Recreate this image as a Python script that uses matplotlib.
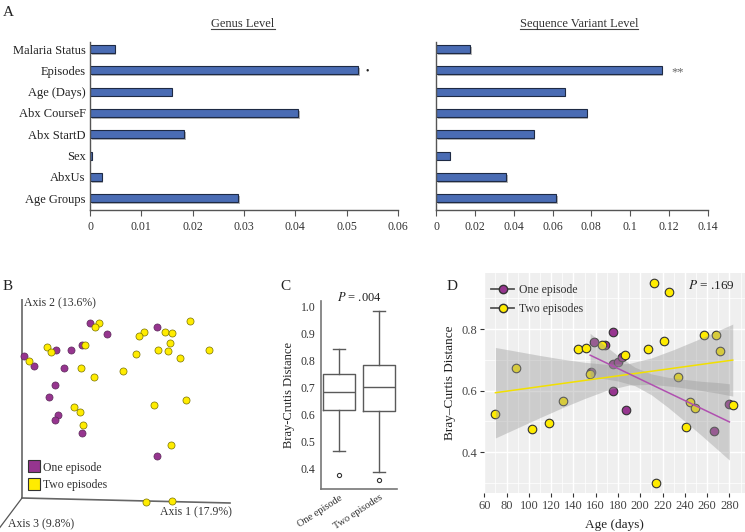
import matplotlib
matplotlib.use('Agg')
import matplotlib.pyplot as plt
import matplotlib.patheffects as pe
from matplotlib.lines import Line2D
from matplotlib.ticker import MultipleLocator

plt.rcParams['font.family'] = ['Liberation Serif', 'DejaVu Serif']
plt.rcParams['mathtext.fontset'] = 'stix'

# ---- panel A: PERMANOVA R2 ----
variables = ['Malaria Status', 'Episodes', 'Age (Days)', 'Abx CourseF',
             'Abx StartD', 'Sex', 'AbxUs', 'Age Groups']
genus_r2 = [0.0048, 0.0523, 0.0159, 0.0405, 0.0184, 0.0003, 0.0023, 0.0289]
sv_r2 = [0.0176, 0.1162, 0.0662, 0.0775, 0.0502, 0.0070, 0.0360, 0.0620]
genus_ticks = [0, 0.01, 0.02, 0.03, 0.04, 0.05, 0.06]
genus_ticklabels = ['0', '0.01', '0.02', '0.03', '0.04', '0.05', '0.06']
sv_ticks = [0, 0.02, 0.04, 0.06, 0.08, 0.10, 0.12, 0.14]
sv_ticklabels = ['0', '0.02', '0.04', '0.06', '0.08', '0.1', '0.12', '0.14']

# ---- panel B: PCoA (projected coordinates) ----
one_ax1 = [67.7, 84.7, 134.7, 33.7, 49, 60.3, 2, 12.3, 42.3, 33, 27, 36.3, 33.3, 59.7, 135]
one_ax2 = [175.3, 163.7, 171.3, 148, 147.7, 153, 141.7, 132.3, 130.3, 113, 101.3, 83.3, 78.3, 65.3, 41.7]
two_ax1 = [77.3, 72.7, 168, 122, 117, 142.7, 150, 148, 25, 28.7, 63, 7.3, 135.7, 146.3,
           114.3, 158.3, 186.7, 59.3, 72.3, 101.3, 132, 164.3, 52.3, 57.7, 61, 148.7, 123.7, 150]
two_ax2 = [175, 171, 177.3, 165.7, 161.7, 166.3, 165.3, 155.3, 150.7, 145.7, 152.7, 137, 147.7, 146.7,
           144.3, 140, 148.3, 130.3, 121.3, 126.7, 93.3, 98, 91, 85.7, 73, 53.3, -4.3, -3.3]

# ---- panel C: Bray-Curtis boxplot ----
box_labels = ['One episode', 'Two episodes']
box_med = [0.684, 0.702]
box_q1 = [0.616, 0.613]
box_q3 = [0.749, 0.784]
box_lo = [0.464, 0.389]
box_hi = [0.845, 0.985]
box_out = [[0.377], [0.357]]

# ---- panel D: distance vs age ----
one_age = [155.5, 158.2, 168.1, 175.3, 175.2, 180.1, 183.9, 175.2, 187.2, 266.3, 280]
one_dist = [0.660, 0.757, 0.748, 0.789, 0.685, 0.694, 0.710, 0.600, 0.538, 0.468, 0.556]
two_age = [69.9, 88.7, 103.1, 118.1, 131, 143.9, 151.1, 155, 165.7, 186.3, 207, 212.4,
           226.1, 221.4, 214.2, 233.6, 244.4, 241.4, 249.2, 257.3, 268.3, 271.4, 283.3]
two_dist = [0.524, 0.672, 0.475, 0.494, 0.565, 0.736, 0.737, 0.655, 0.749, 0.714, 0.734, 0.950,
            0.921, 0.761, 0.299, 0.645, 0.562, 0.481, 0.542, 0.779, 0.781, 0.728, 0.552]
one_fit_x = [155, 280]
one_fit_y = [0.715, 0.498]
one_band_x = [155, 165, 180, 195, 210, 225, 240, 255, 270, 280]
one_band_hi = [0.786, 0.756, 0.713, 0.676, 0.654, 0.643, 0.636, 0.630, 0.626, 0.622]
one_band_lo = [0.644, 0.640, 0.631, 0.616, 0.586, 0.545, 0.500, 0.454, 0.406, 0.374]
two_fit_x = [70, 283]
two_fit_y = [0.593, 0.699]
two_band_x = [70, 90, 110, 130, 150, 170, 190, 210, 230, 250, 270, 283]
two_band_hi = [0.740, 0.727, 0.714, 0.702, 0.692, 0.685, 0.688, 0.706, 0.733, 0.763, 0.795, 0.816]
two_band_lo = [0.446, 0.479, 0.512, 0.544, 0.574, 0.601, 0.618, 0.620, 0.613, 0.603, 0.591, 0.582]

purple = '#96358f'
yellow = '#ffec00'
bar_col = '#4a6cb4'

fig = plt.figure(figsize=(7.45, 5.32), dpi=100)
W, H = 745, 532


def px_axes(x0, y0, x1, y1):
    # axes from pixel box (top-left origin)
    return fig.add_axes([x0 / W, 1 - y1 / H, (x1 - x0) / W, (y1 - y0) / H])


# A
shadow = [pe.SimplePatchShadow(offset=(1.2, -1.2), shadow_rgbFace='#999999', alpha=0.7), pe.Normal()]
axA1 = px_axes(90, 42, 398, 210)
axA2 = px_axes(436, 42, 708, 210)
ypos = list(range(len(variables)))
for ax, vals, ticks, tlabels in [(axA1, genus_r2, genus_ticks, genus_ticklabels),
                                 (axA2, sv_r2, sv_ticks, sv_ticklabels)]:
    bars = ax.barh(ypos, vals, height=0.37, color=bar_col, edgecolor='#1e2a44', linewidth=0.8)
    for b in bars:
        b.set_path_effects(shadow)
    ax.set_ylim(7.55, -0.33)
    ax.set_xlim(ticks[0], ticks[-1])
    ax.set_xticks(ticks)
    ax.set_xticklabels(tlabels, fontsize=8.5, color='#333333')
    ax.spines[['top', 'right']].set_visible(False)
    for s in ['left', 'bottom']:
        ax.spines[s].set_color('#555555')
        ax.spines[s].set_linewidth(1.0)
    ax.tick_params(axis='x', direction='out', length=4, color='#555555', pad=4)
    ax.tick_params(axis='y', length=0, pad=3)
axA1.set_yticks(ypos)
axA1.set_yticklabels(variables, fontsize=9, color='#222222')
axA2.set_yticks([])
axA1.text(genus_r2[1] + 0.0013, 1.02, '\u2022', fontsize=7, ha='left', va='center', color='#222222')
axA2.text(sv_r2[1] + 0.005, 1.1, '**', fontsize=9, ha='left', va='center', color='#666666')

t1 = fig.text(243 / W, 1 - 24 / H, 'Genus Level', fontsize=9, ha='center', va='center', color='#333333')
t2 = fig.text(579 / W, 1 - 24 / H, 'Sequence Variant Level', fontsize=9, ha='center', va='center', color='#333333')

# B
axB = px_axes(0, 280, 240, 532)
axB.set_xlim(-22, 218)
axB.set_ylim(-34, 218)
axB.axis('off')
axB.plot([0, 0], [0, 199], color='#666666', lw=1.2, solid_capstyle='butt')
axB.plot([0, 208], [0, -5], color='#666666', lw=1.2)
axB.plot([0, -24], [0, -32], color='#555555', lw=0.9)
axB.scatter(one_ax1, one_ax2, s=26, c=purple, edgecolors='#5a2a58', linewidths=0.5, zorder=3)
axB.scatter(two_ax1, two_ax2, s=26, c=yellow, edgecolors='#777000', linewidths=0.5, zorder=4)
axB.text(2, 195, 'Axis 2 (13.6%)', fontsize=8.5, ha='left', va='center', color='#333333')
axB.text(210, -14, 'Axis 1 (17.9%)', fontsize=8.5, ha='right', va='center', color='#333333')
axB.text(-14, -26, 'Axis 3 (9.8%)', fontsize=8.5, ha='left', va='center', color='#333333')
hB = [Line2D([], [], ls='none', marker='s', ms=8.5, mfc=purple, mec='#333333', mew=0.8, label='One episode'),
      Line2D([], [], ls='none', marker='s', ms=8.5, mfc=yellow, mec='#333333', mew=0.8, label='Two episodes')]
axB.legend(handles=hB, loc='lower left', bbox_to_anchor=(0.095, 0.14), frameon=False, fontsize=8.5,
           handlelength=0.9, handletextpad=0.35, borderpad=0, labelspacing=0.45, labelcolor='#333333')

# C
axC = px_axes(321, 301, 397, 489)
stats = []
for i in range(2):
    stats.append(dict(med=box_med[i], q1=box_q1[i], q3=box_q3[i], whislo=box_lo[i],
                      whishi=box_hi[i], fliers=box_out[i], label=box_labels[i]))
lc = '#5a5a5a'
axC.bxp(stats, positions=[1, 2], widths=0.82, capwidths=0.3,
        boxprops=dict(color=lc, lw=1.0), medianprops=dict(color=lc, lw=1.0),
        whiskerprops=dict(color=lc, lw=1.0), capprops=dict(color=lc, lw=1.0),
        flierprops=dict(marker='o', mfc='none', mec='#333333', ms=3, mew=0.8))
axC.set_xlim(0.55, 2.45)
axC.set_ylim(0.325, 1.021)
axC.set_yticks([0.4, 0.5, 0.6, 0.7, 0.8, 0.9, 1.0])
axC.set_yticklabels(['0.4', '0.5', '0.6', '0.7', '0.8', '0.9', '1.0'], fontsize=8.5, color='#333333')
axC.set_xticklabels(box_labels, rotation=33, ha='right', rotation_mode='anchor', fontsize=7.5, color='#333333')
axC.spines[['top', 'right']].set_visible(False)
for s in ['left', 'bottom']:
    axC.spines[s].set_color('#777777')
    axC.spines[s].set_linewidth(1.2)
axC.tick_params(length=0, pad=4)
axC.tick_params(axis='x', pad=3)
axC.set_ylabel('Bray-Crutis Distance', fontsize=9, color='#222222', labelpad=4)
axC.text(0.5, 1.021, r'$\it{P}$ = .004', transform=axC.transAxes, ha='center', va='center',
         fontsize=9, color='#222222')

# D
axD = px_axes(484.3, 272.7, 745, 492.7)
axD.set_facecolor('#efefef')
axD.set_xlim(60, 294)
axD.set_ylim(0.268, 0.983)
axD.xaxis.set_major_locator(MultipleLocator(20))
axD.xaxis.set_minor_locator(MultipleLocator(10))
axD.yaxis.set_major_locator(MultipleLocator(0.2))
axD.yaxis.set_minor_locator(MultipleLocator(0.1))
axD.grid(which='major', color='white', lw=1.0)
axD.grid(which='minor', color='white', lw=0.5)
axD.set_axisbelow(True)
for s in axD.spines.values():
    s.set_visible(False)
axD.scatter(one_age, one_dist, s=38, c=purple, edgecolors='#333333', linewidths=0.8, zorder=3)
axD.scatter(two_age, two_dist, s=38, c=yellow, edgecolors='#333333', linewidths=0.8, zorder=3)
axD.fill_between(two_band_x, two_band_lo, two_band_hi, color='#999999', alpha=0.4, lw=0, zorder=4)
axD.fill_between(one_band_x, one_band_lo, one_band_hi, color='#999999', alpha=0.4, lw=0, zorder=4)
axD.plot(two_fit_x, two_fit_y, color='#f2e000', lw=1.1, zorder=5)
axD.plot(one_fit_x, one_fit_y, color='#b050b0', lw=1.1, zorder=5)
axD.set_yticks([0.4, 0.6, 0.8])
axD.set_yticklabels(['0.4', '0.6', '0.8'], fontsize=9, color='#444444')
axD.set_xticks(range(60, 281, 20))
axD.set_xticklabels([str(v) for v in range(60, 281, 20)], fontsize=9, color='#444444')
axD.tick_params(which='major', length=3, color='#333333', pad=2)
axD.tick_params(which='minor', length=0)
axD.set_xlabel('Age (days)', fontsize=9.5, color='#222222', labelpad=5)
axD.set_ylabel('Bray\u2013Curtis Distance', fontsize=9.5, color='#222222', labelpad=4)
axD.text(0.96, 0.94, r'$\it{P}$ = .169', transform=axD.transAxes, ha='right', va='center',
         fontsize=9.5, color='#222222')
hD = [Line2D([], [], color='#555555', lw=1.3, marker='o', ms=6, mfc=purple, mec='#333333', label='One episode'),
      Line2D([], [], color='#555555', lw=1.3, marker='o', ms=6, mfc=yellow, mec='#333333', label='Two episodes')]
axD.legend(handles=hD, loc='upper left', bbox_to_anchor=(0.0, 0.98), frameon=False, fontsize=8.5,
           handlelength=1.9, handletextpad=0.4, borderpad=0.1, labelspacing=0.55, labelcolor='#333333')

# panel letters
for letter, x, y in [('A', 3, 12), ('B', 3, 286), ('C', 280, 287), ('D', 447, 286)]:
    fig.text(x / W, 1 - y / H, letter, fontsize=11, ha='left', va='center', color='#222222')

# underline titles
fig.canvas.draw()
r = fig.canvas.get_renderer()
for t in (t1, t2):
    bb = t.get_window_extent(r).transformed(fig.transFigure.inverted())
    fig.add_artist(Line2D([bb.x0, bb.x1], [bb.y0 + 0.001] * 2, transform=fig.transFigure,
                          color='#444444', lw=0.8))

fig.savefig('out.png', dpi=100)
